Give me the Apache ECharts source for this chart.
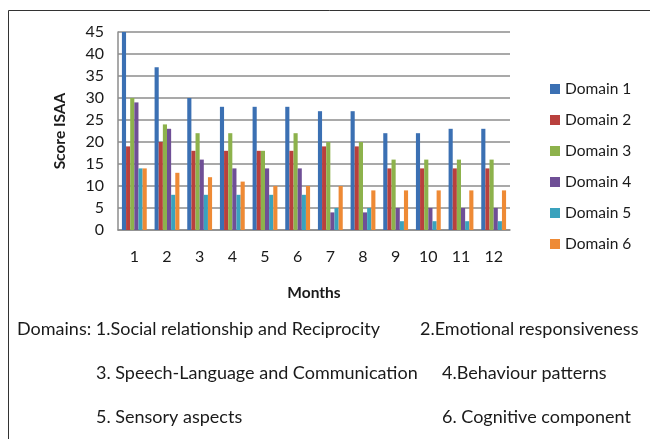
<!DOCTYPE html>
<html>
<head>
<meta charset="utf-8">
<script src="https://cdn.jsdelivr.net/npm/echarts@6/dist/echarts.min.js"></script>
<style>
  html, body { margin: 0; padding: 0; background: #fff; }
  #chart { width: 650px; height: 439px; }
</style>
</head>
<body>
<div id="chart"></div>
<script>
// 数据
const months = ['1', '2', '3', '4', '5', '6', '7', '8', '9', '10', '11', '12'];
const domainNames = ['Domain 1', 'Domain 2', 'Domain 3', 'Domain 4', 'Domain 5', 'Domain 6'];
const domain1 = [45, 37, 30, 28, 28, 28, 27, 27, 22, 22, 23, 23];
const domain2 = [19, 20, 18, 18, 18, 18, 19, 19, 14, 14, 14, 14];
const domain3 = [30, 24, 22, 22, 18, 22, 20, 20, 16, 16, 16, 16];
const domain4 = [29, 23, 16, 14, 14, 14, 4, 4, 5, 5, 5, 5];
const domain5 = [14, 8, 8, 8, 8, 8, 5, 5, 2, 2, 2, 2];
const domain6 = [14, 13, 12, 11, 10, 10, 10, 9, 9, 9, 9, 9];
const yTicks = [0, 5, 10, 15, 20, 25, 30, 35, 40, 45];

const colors = ['#3b70b3', '#b9403d', '#8db24c', '#6f4f96', '#3aa2bd', '#ee8a35'];
const font = 'Lato, "Open Sans", sans-serif';
const textColor = '#1a1a1a';

const allValues = [domain1, domain2, domain3, domain4, domain5, domain6];

// 底部说明文字
function note(text, x, y) {
  return {
    type: 'text', x: x, y: y,
    style: { text: text, fontFamily: font, fontSize: 18, fill: textColor, verticalAlign: 'middle' }
  };
}

const chart = echarts.init(document.getElementById('chart'));

const option = {
  animation: false,
  grid: { left: 118, right: 140, top: 32, bottom: 209 },
  legend: {
    orient: 'vertical',
    left: 545,
    top: 76,
    itemWidth: 10,
    itemHeight: 10,
    itemGap: 15,
    icon: 'rect',
    data: domainNames,
    textStyle: { fontFamily: font, fontSize: 15.5, color: textColor }
  },
  xAxis: {
    type: 'category',
    data: months,
    name: 'Months',
    nameLocation: 'middle',
    nameGap: 55,
    nameTextStyle: { fontFamily: font, fontSize: 15.5, fontWeight: 'bold', color: textColor },
    axisLine: { lineStyle: { color: '#8c8c8c', width: 1.5 } },
    axisTick: { show: false },
    axisLabel: { fontFamily: font, fontSize: 16, color: textColor, margin: 19 }
  },
  yAxis: {
    type: 'value',
    min: 0,
    max: 45,
    interval: 5,
    name: 'Score ISAA',
    nameLocation: 'middle',
    nameGap: 50,
    nameTextStyle: { fontFamily: font, fontSize: 15.5, fontWeight: 'bold', color: textColor },
    axisLine: { show: true, lineStyle: { color: '#8c8c8c', width: 1.5 } },
    axisTick: { show: false },
    axisLabel: {
      fontFamily: font, fontSize: 16, color: textColor, margin: 14,
      formatter: v => yTicks.includes(v) ? String(v) : ''
    },
    splitLine: { lineStyle: { color: '#8c8c8c', width: 1.5 } }
  },
  series: domainNames.map((name, i) => ({
    name: name,
    type: 'bar',
    data: allValues[i],
    barGap: '0%',
    barCategoryGap: '24%',
    itemStyle: { color: colors[i] }
  })),
  graphic: [
    {
      type: 'rect',
      shape: { x: 8.5, y: 10.5, width: 700, height: 500 },
      style: { fill: 'none', stroke: '#333', lineWidth: 1 },
      z: -1
    },
    note('Domains: 1.Social relationship and Reciprocity', 17, 329),
    note('2.Emotional responsiveness', 420, 329),
    note('3. Speech-Language and Communication', 96, 373),
    note('4.Behaviour patterns', 442, 373),
    note('5. Sensory aspects', 96, 417),
    note('6. Cognitive component', 442, 417)
  ]
};

chart.setOption(option);
</script>
</body>
</html>
